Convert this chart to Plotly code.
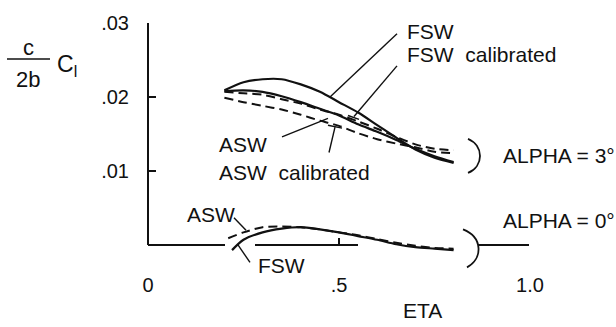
import plotly.graph_objects as go

# Spanwise stations (ETA) and section rolling-moment loading c/2b * Cl
eta_a3 = [0.20, 0.25, 0.30, 0.35, 0.40, 0.45, 0.50, 0.55, 0.60, 0.65, 0.70, 0.75, 0.80]

# ALPHA = 3 deg
fsw_a3 = [0.0209, 0.0220, 0.0224, 0.0224, 0.0217, 0.0207, 0.0193, 0.0179, 0.0162, 0.0145, 0.0129, 0.0118, 0.0111]
fsw_cal_a3 = [0.0207, 0.0205, 0.0203, 0.0197, 0.0191, 0.0183, 0.0176, 0.0167, 0.0157, 0.0146, 0.0136, 0.0130, 0.0128]
asw_a3 = [0.0208, 0.0209, 0.0207, 0.0201, 0.0193, 0.0184, 0.0175, 0.0163, 0.0153, 0.0142, 0.0130, 0.0120, 0.0112]
asw_cal_a3 = [0.0199, 0.0193, 0.0188, 0.0183, 0.0176, 0.0168, 0.0161, 0.0151, 0.0143, 0.0137, 0.0132, 0.0126, 0.0124]

# ALPHA = 0 deg
eta_fsw_a0 = [0.22, 0.25, 0.30, 0.35, 0.40, 0.45, 0.50, 0.55, 0.60, 0.65, 0.70, 0.75, 0.80]
fsw_a0 = [-0.0007, 0.0007, 0.0017, 0.0022, 0.0024, 0.0021, 0.0017, 0.0012, 0.0007, 0.0001, -0.0003, -0.0005, -0.0007]
eta_asw_a0 = [0.21, 0.25, 0.30, 0.35, 0.40, 0.45, 0.50, 0.55, 0.60, 0.65, 0.70, 0.75, 0.80]
asw_a0 = [0.0009, 0.0017, 0.0024, 0.0025, 0.0024, 0.0021, 0.0017, 0.0013, 0.0008, 0.0003, -0.0001, -0.0004, -0.0005]

x_tickvals = [0, 0.5, 1.0]
x_ticktext = ["0", ".5", "1.0"]
y_tickvals = [0.01, 0.02, 0.03]
y_ticktext = [".01", ".02", ".03"]

INK = "#111111"
FONT = "Liberation Sans, Arial, sans-serif"

# plot-area geometry (pixels) used to place the free-standing labels and strokes
L, T, W, H = 148, 16, 382, 264


def px_x(px):
    return (px - L) / W


def px_y(py):
    return (T + H - py) / H


fig = go.Figure()

solid = dict(color=INK, width=2.2, shape="spline", smoothing=0.8)
dashed = dict(color=INK, width=2.0, dash="9px,5px", shape="spline", smoothing=0.8)

fig.add_trace(go.Scatter(x=eta_a3, y=fsw_a3, mode="lines", line=solid, name="FSW"))
fig.add_trace(go.Scatter(x=eta_a3, y=fsw_cal_a3, mode="lines", line=dashed, name="FSW calibrated"))
fig.add_trace(go.Scatter(x=eta_a3, y=asw_a3, mode="lines", line=solid, name="ASW"))
fig.add_trace(go.Scatter(x=eta_a3, y=asw_cal_a3, mode="lines", line=dashed, name="ASW calibrated"))
fig.add_trace(go.Scatter(x=eta_fsw_a0, y=fsw_a0, mode="lines", line=solid, name="FSW a0"))
fig.add_trace(go.Scatter(x=eta_asw_a0, y=asw_a0, mode="lines", line=dashed, name="ASW a0"))

shapes = []


def seg(x0, y0, x1, y1, w=1.4):
    shapes.append(dict(type="line", xref="paper", yref="paper",
                       x0=px_x(x0), y0=px_y(y0), x1=px_x(x1), y1=px_y(y1),
                       line=dict(color=INK, width=w)))


def bracket(x0, y0, cx1, cy1, cx2, cy2, x1, y1):
    path = "M {:.5f},{:.5f} C {:.5f},{:.5f} {:.5f},{:.5f} {:.5f},{:.5f}".format(
        px_x(x0), px_y(y0), px_x(cx1), px_y(cy1), px_x(cx2), px_y(cy2), px_x(x1), px_y(y1))
    shapes.append(dict(type="path", xref="paper", yref="paper", path=path,
                       line=dict(color=INK, width=1.8)))


# vertical axis line
seg(148, 16, 148, 244, 2.0)
# horizontal axis, broken where the curves pass
seg(148, 244, 225, 244, 2.0)
seg(255, 244, 358, 244, 2.0)
seg(478, 244, 529, 244, 2.0)

# leader lines
seg(397, 27, 330, 92)
seg(397, 60, 354, 112)
seg(348, 111, 359, 115)
seg(282, 133, 328, 114)
seg(329, 149, 335, 123)
seg(328, 121, 342, 124)
seg(234, 216, 246, 229)
seg(250, 262, 238, 244)

# group brackets
bracket(468, 135, 484, 142, 484, 163, 468, 170)
bracket(463, 228, 483, 236, 483, 258, 467, 267)

# fraction bar of the y label
seg(7, 53, 50, 53, 1.4)

annotations = []


def label(text, px, py, size=21, xanchor="left"):
    annotations.append(dict(text=text, xref="paper", yref="paper",
                            x=px_x(px), y=px_y(py), xanchor=xanchor, yanchor="middle",
                            showarrow=False, font=dict(family=FONT, size=size, color=INK)))


label("FSW", 405, 25)
label("FSW  calibrated", 405, 48)
label("ASW", 217, 141)
label("ASW  calibrated", 217, 170)
label("ASW", 185, 213)
label("FSW", 256, 265)
label("ALPHA = 3°", 501, 152)
label("ALPHA = 0°", 501, 219)
label("ETA", 422, 311, xanchor="center")
label("c", 29, 41, size=22, xanchor="center")
label("2b", 28, 74, size=22, xanchor="center")
label("C<sub>l</sub>", 55, 60, size=23)

fig.update_layout(
    width=616, height=327,
    margin=dict(l=L, r=616 - L - W, t=T, b=327 - T - H),
    paper_bgcolor="white", plot_bgcolor="white",
    showlegend=False,
    font=dict(family=FONT, size=20, color=INK),
    shapes=shapes, annotations=annotations,
    xaxis=dict(range=[0, 1], showgrid=False, zeroline=False, showline=False,
               anchor="free", position=px_y(244),
               tickvals=x_tickvals, ticktext=x_ticktext,
               ticks="inside", ticklen=7, tickwidth=1.6, tickcolor=INK,
               ticklabelstandoff=26, tickfont=dict(family=FONT, size=20, color=INK)),
    yaxis=dict(range=[-(H - (244 - T)) / 7600, 0.03], showgrid=False, zeroline=False, showline=False,
               tickvals=y_tickvals, ticktext=y_ticktext,
               ticks="inside", ticklen=8, tickwidth=1.6, tickcolor=INK,
               ticklabelstandoff=18, tickfont=dict(family=FONT, size=20, color=INK)),
)

fig.write_html("out.html")
